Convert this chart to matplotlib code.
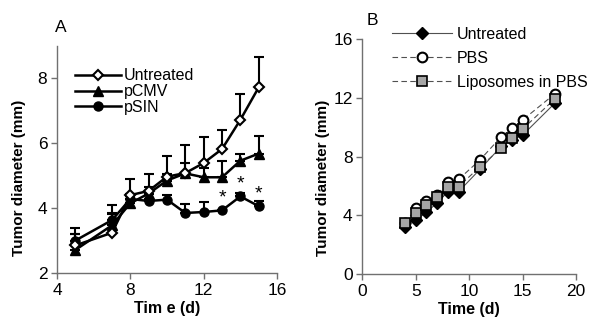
import matplotlib
matplotlib.use("Agg")
import matplotlib.pyplot as plt
import numpy as np
from matplotlib.lines import Line2D

plt.rcParams['font.family'] = ['Liberation Sans', 'DejaVu Sans']

# ---- Panel A data ----
days_a = [5, 7, 8, 9, 10, 11, 12, 13, 14, 15]
untreated_a = [2.85, 3.24, 4.40, 4.53, 4.97, 5.08, 5.39, 5.82, 6.72, 7.72]
untreated_a_err = [0.55, 0.85, 0.50, 0.52, 0.65, 0.86, 0.80, 0.60, 0.80, 0.93]
pcmv_a = [2.71, 3.47, 4.15, 4.45, 4.85, 5.07, 4.95, 4.95, 5.46, 5.68]
pcmv_a_err = [0.50, 0.38, 0.30, 0.20, 0.20, 0.32, 0.30, 0.50, 0.20, 0.55]
psin_a = [3.00, 3.63, 4.28, 4.22, 4.26, 3.85, 3.88, 3.93, 4.36, 4.06]
psin_a_err = [0.20, 0.20, 0.10, 0.05, 0.15, 0.29, 0.30, 0.00, 0.10, 0.15]
star_days = [13, 14, 15]

# ---- Panel B data ----
days_b = [4, 5, 6, 7, 8, 9, 11, 13, 14, 15, 18]
untreated_b = [3.18, 3.68, 4.20, 4.86, 5.60, 5.61, 7.13, 8.70, 9.15, 9.47, 11.63]
pbs_b = [3.45, 4.48, 4.98, 5.39, 6.25, 6.45, 7.77, 9.36, 9.93, 10.50, 12.27]
lipo_b = [3.50, 4.18, 4.70, 5.27, 5.95, 5.95, 7.31, 8.57, 9.25, 9.88, 11.93]

fig = plt.figure(figsize=(6, 3.36), dpi=100)
axA = fig.add_axes([0.095, 0.1875, 0.3667, 0.676])
axB = fig.add_axes([0.604, 0.1845, 0.356, 0.6985])

spine_col = '#707070'
for ax in (axA, axB):
    for s in ('top', 'right'):
        ax.spines[s].set_visible(False)
    for s in ('left', 'bottom'):
        ax.spines[s].set_color(spine_col)
        ax.spines[s].set_linewidth(1.0)
    ax.tick_params(direction='out', length=4, width=1, color=spine_col,
                   labelsize=12.5, pad=3)

# ---- Panel A ----
def up_err(err):
    return [np.zeros(len(err)), np.array(err)]

for vals, errs in ((psin_a, psin_a_err), (pcmv_a, pcmv_a_err), (untreated_a, untreated_a_err)):
    axA.errorbar(days_a, vals, yerr=up_err(errs), fmt='none', ecolor='black',
                 elinewidth=1.5, capsize=3.5, capthick=1.5, zorder=2)
axA.plot(days_a, psin_a, '-o', color='black', lw=1.8, ms=6.5, mfc='black', mec='black',
         label='pSIN', zorder=3)
axA.plot(days_a, pcmv_a, '-^', color='black', lw=1.8, ms=7, mfc='black', mec='black',
         label='pCMV', zorder=4)
axA.plot(days_a, untreated_a, '-D', color='black', lw=1.8, ms=5.5, mfc='white', mec='black',
         mew=1.5, label='Untreated', zorder=5)

for d in star_days:
    i = days_a.index(d)
    axA.text(d, psin_a[i] + 0.38, '*', ha='center', va='center', fontsize=14)

axA.set_xlim(4, 16)
axA.set_ylim(2, 9)
axA.set_xticks([4, 8, 12, 16])
axA.set_yticks([2, 4, 6, 8])
axA.set_xlabel('Tim e (d)', fontsize=11.5, fontweight='bold', labelpad=2)
axA.set_ylabel('Tumor diameter (mm)', fontsize=11, fontweight='bold')
axA.yaxis.set_label_coords(-0.14, 0.42)
axA.text(-0.01, 1.08, 'A', transform=axA.transAxes, fontsize=12.5, va='center', ha='left')

hA, lA = axA.get_legend_handles_labels()
order = [2, 1, 0]
axA.legend([hA[i] for i in order], [lA[i] for i in order], loc='upper left',
           bbox_to_anchor=(0.03, 0.95), frameon=False, fontsize=11.5,
           handlelength=2.9, handletextpad=0.15, labelspacing=0.05, borderpad=0.2)

# ---- Panel B ----
axB.plot(days_b, untreated_b, '-', color='#505050', lw=0.8, zorder=2)
axB.plot(days_b, pbs_b, '--', color='#505050', lw=0.8, dashes=(5, 3), zorder=2)
axB.plot(days_b, lipo_b, '--', color='#505050', lw=0.8, dashes=(5, 3), zorder=2)
axB.plot(days_b, untreated_b, 'D', color='black', ms=6, mfc='black', mec='black', zorder=3)
axB.plot(days_b, pbs_b, 'o', ms=7, mfc='white', mec='black', mew=1.5, zorder=4)
axB.plot(days_b, lipo_b, 's', ms=6.5, mfc='#a6a6a6', mec='black', mew=1.2, zorder=5)

hB = [
    Line2D([], [], ls='-', color='#505050', lw=0.8, marker='D', ms=6, mfc='black', mec='black'),
    Line2D([], [], ls='--', dashes=(5, 3), color='#505050', lw=0.8, marker='o', ms=7,
           mfc='white', mec='black', mew=1.5),
    Line2D([], [], ls='--', dashes=(5, 3), color='#505050', lw=0.8, marker='s', ms=6.5,
           mfc='#a6a6a6', mec='black', mew=1.2),
]
axB.legend(hB, ['Untreated', 'PBS', 'Liposomes in PBS'], loc='upper left',
           bbox_to_anchor=(0.085, 1.1), frameon=False, fontsize=11.5,
           handlelength=3.8, handletextpad=0.3, labelspacing=0.55, borderpad=0.2)

axB.set_xlim(0, 20)
axB.set_ylim(0, 16)
axB.set_xticks([0, 5, 10, 15, 20])
axB.set_yticks([0, 4, 8, 12, 16])
axB.set_xlabel('Time (d)', fontsize=11.5, fontweight='bold', labelpad=2)
axB.set_ylabel('Tumor diameter (mm)', fontsize=11, fontweight='bold')
axB.yaxis.set_label_coords(-0.15, 0.41)
axB.text(0.02, 1.08, 'B', transform=axB.transAxes, fontsize=12.5, va='center', ha='left')

fig.savefig('out.png', dpi=100)
